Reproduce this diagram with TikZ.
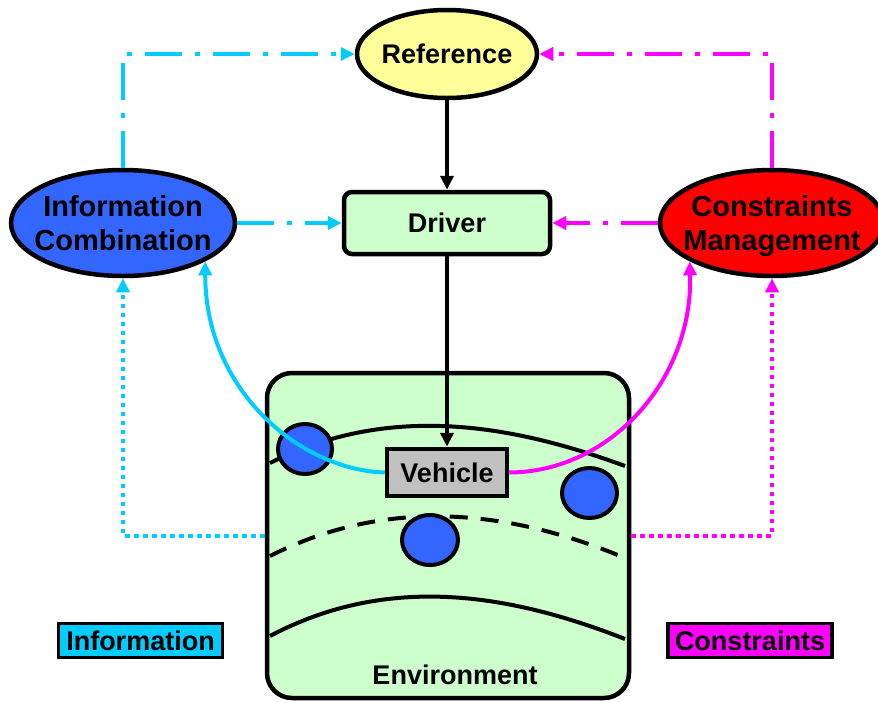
\documentclass[tikz,border=0pt]{standalone}
\usepackage{fontspec}
\setmainfont{Liberation Sans}
\usetikzlibrary{shapes.geometric,arrows.meta}

\definecolor{infocyan}{HTML}{00CCFF}
\definecolor{consmag}{HTML}{FF00FF}
\definecolor{icblue}{HTML}{3366FF}
\definecolor{cmred}{HTML}{FF0000}
\definecolor{refyellow}{HTML}{FFFF99}
\definecolor{envgreen}{HTML}{CCFFCC}
\definecolor{vehgray}{HTML}{C0C0C0}

\begin{document}
\begin{tikzpicture}[x=1pt,y=-1pt,
  every node/.style={font=\bfseries\fontsize{27}{33}\selectfont, inner sep=0pt},
  shapeline/.style={draw=black, line width=4.5pt},
  oval/.style={shapeline, ellipse},
  ovaltext/.style={font=\bfseries\fontsize{29}{34}\selectfont, align=center, text depth=0pt},
  legend/.style={draw=black, line width=3.5pt, minimum width=164pt, minimum height=34pt},
  tip/.style={-{Triangle[length=14pt,width=13pt]}},
  flow/.style={line width=4pt, tip},
  dashdot/.style={dash pattern=on 37pt off 13pt on 5pt off 13pt},
  dots/.style={dash pattern=on 4.5pt off 4.5pt},
  road/.style={line width=4pt},
  roaddash/.style={road, dash pattern=on 18pt off 13pt},
  obstacle/.style={draw=black, line width=4pt, fill=icblue},
]
\useasboundingbox (0,0) rectangle (878,702);

% environment panel with the road lanes
\node[shapeline, fill=envgreen, rounded corners=25pt,
      minimum width=362pt, minimum height=325pt] (env) at (448,535.5) {};
\draw[road] (270,463) .. controls (387,404) and (508,423) .. (625,466);
\draw[roaddash] (270,556) .. controls (387,497) and (508,509) .. (625,558);
\draw[road] (270,636) .. controls (387,574) and (508,593) .. (625,639);

% other road users
\draw[obstacle] (305,449) ellipse [x radius=27, y radius=25];
\draw[obstacle] (430,540) ellipse [x radius=28, y radius=25];
\draw[obstacle] (589.5,493) ellipse [x radius=27.5, y radius=25];

\node (envtext) at (455,675) {Environment};

% vehicle
\node[shapeline, fill=vehgray, minimum width=120pt, minimum height=47pt]
  (veh) at (447,472.5) {Vehicle};

% control blocks
\node[oval, fill=refyellow, minimum width=180pt, minimum height=88pt] (ref) at (447,54) {};
\node (reftext) at (ref) {Reference};
\node[shapeline, fill=envgreen, rounded corners=8pt,
      minimum width=206pt, minimum height=62pt] (drv) at (447,223) {Driver};
\node[oval, fill=icblue, minimum width=224pt, minimum height=106pt] (ic) at (123,223) {};
\node[ovaltext] (ictext) at (ic) {Information\\Combination};
\node[oval, fill=cmred, minimum width=224pt, minimum height=106pt] (cm) at (772,223) {};
\node[ovaltext] (cmtext) at (cm) {Constraints\\Management};

% legend
\node[legend, fill=infocyan] (infolab) at (140.5,640.5) {Information};
\node[legend, fill=consmag] (conslab) at (750,640.5) {Constraints};

% main signal chain
\draw[flow, black] (ref) -- (drv);
\draw[flow, black] (drv) -- (veh);

% information paths
\draw[flow, infocyan, dashdot] (ic) -- (drv);
\draw[flow, infocyan, dashdot] (ic.north) |- (ref.west);
\draw[flow, infocyan, dots] (env.west) -| (ic.south);
\draw[flow, infocyan] (veh.west) .. controls (300,470) and (205,390) .. (ic.-25);

% constraint paths
\draw[flow, consmag, dashdot] (cm) -- (drv);
\draw[flow, consmag, dashdot] (cm.north) |- (ref.east);
\draw[flow, consmag, dots] (env.east) -| (cm.south);
\draw[flow, consmag] (veh.east) .. controls (610,472) and (693,380) .. (cm.-155);
\end{tikzpicture}
\end{document}
